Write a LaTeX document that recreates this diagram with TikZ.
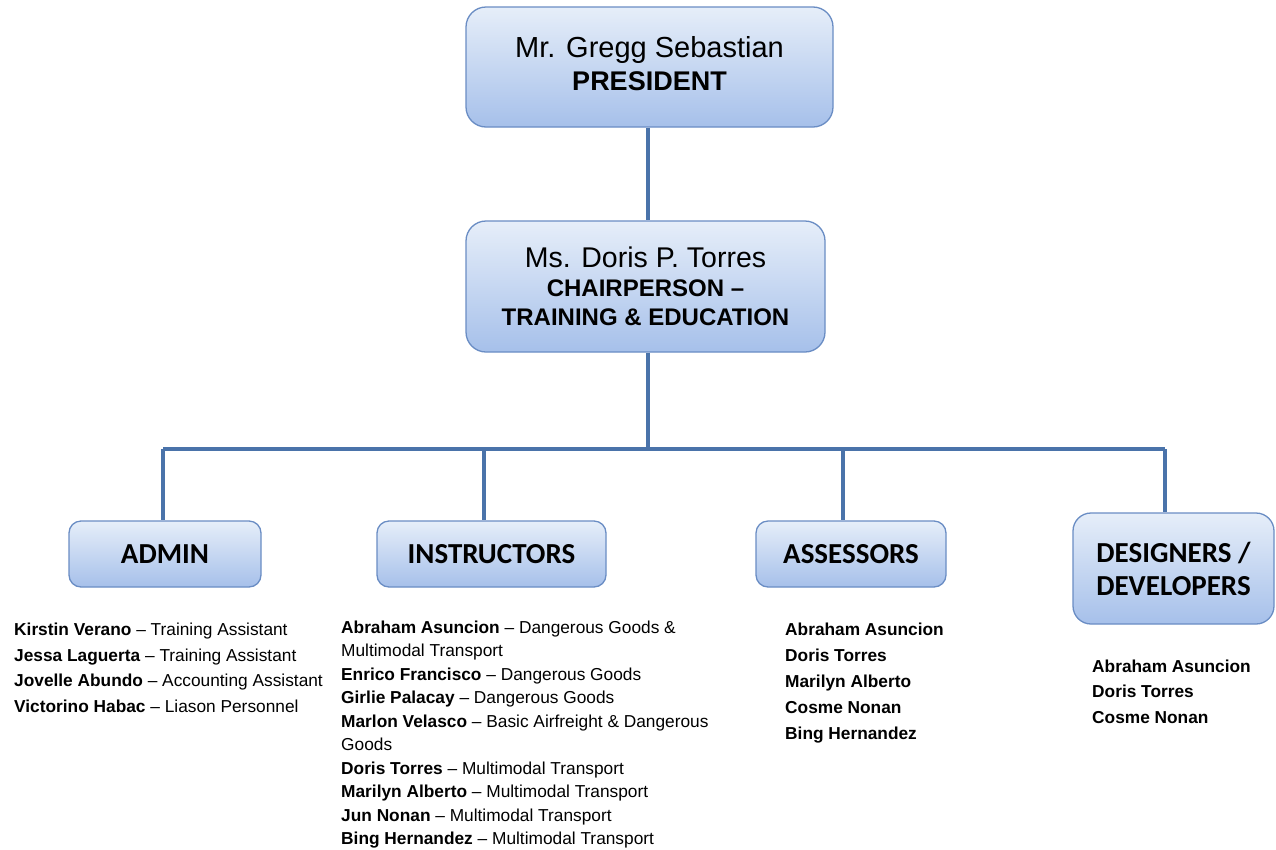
\documentclass[tikz,border=0pt]{standalone}
\usepackage{fontspec}
\setmainfont{Liberation Sans}
\newfontfamily\headfont{Carlito}
\definecolor{boxtop}{HTML}{E6EEF9}
\definecolor{boxbot}{HTML}{A6C0EA}
\definecolor{boxborder}{HTML}{6A8DC4}
\definecolor{linkcol}{HTML}{4A73AA}
\begin{document}
\begin{tikzpicture}[x=1pt,y=-1pt,
  box/.style={draw=boxborder, line width=1.3pt, rounded corners=#1, top color=boxtop, bottom color=boxbot, inner sep=0pt, align=center},
  head/.style={font=\headfont\bfseries\fontsize{29}{33}\selectfont},
  link/.style={draw=linkcol, line width=4pt},
  list/.style={inner sep=0pt, align=left, anchor=north west, font=\fontsize{17.3}{#1}\selectfont}]
\useasboundingbox (0,0) rectangle (1276,849);
\fill[white] (0,0) rectangle (1276,849);

\node[box=20pt, minimum width=367pt, minimum height=120pt, font=\fontsize{27}{33}\selectfont] (pres) at (649.5,67)
  {\fontsize{29}{33}\selectfont Mr. Gregg Sebastian\\ \bfseries PRESIDENT\rule[-8pt]{0pt}{8pt}};
\node[box=20pt, minimum width=359pt, minimum height=131pt, font=\fontsize{24}{29}\selectfont] (chair) at (645.5,286.5)
  {\fontsize{28.5}{29}\selectfont Ms. Doris P. Torres\\ \bfseries CHAIRPERSON –\\ \bfseries TRAINING \& EDUCATION};

\node[box=12pt, minimum width=192pt, minimum height=66pt, head] (admin) at (165,554) {ADMIN};
\node[box=12pt, minimum width=229pt, minimum height=66pt, head] (instr) at (491.5,554) {INSTRUCTORS};
\node[box=12pt, minimum width=190pt, minimum height=66pt, head] (assess) at (851,554) {ASSESSORS};
\node[box=18pt, minimum width=201pt, minimum height=111pt, head] (design) at (1173.5,568.5) {DESIGNERS /\\ DEVELOPERS};

\coordinate (b1) at (163,449);
\coordinate (b2) at (484,449);
\coordinate (b3) at (843,449);
\coordinate (b4) at (1165,449);
\coordinate (bc) at (648,449);

\draw[link] (pres.south -| bc) -- (chair.north -| bc);
\draw[link] (chair.south -| bc) -- (bc);
\draw[link] (b1) -- (b4);
\draw[link] (b1) -- (b1 |- admin.north);
\draw[link] (b2) -- (b2 |- instr.north);
\draw[link] (b3) -- (b3 |- assess.north);
\draw[link] (b4) -- (b4 |- design.north);

\node[list=25.7] (adminlist) at (14,622.6)
  {\textbf{Kirstin Verano} – Training Assistant\\
   \textbf{Jessa Laguerta} – Training Assistant\\
   \textbf{Jovelle Abundo} – Accounting Assistant\\
   \textbf{Victorino Habac} – Liason Personnel};
\node[list=23.5] (instrlist) at (341,620.6)
  {\textbf{Abraham Asuncion} – Dangerous Goods \&\\
   Multimodal Transport\\
   \textbf{Enrico Francisco} – Dangerous Goods\\
   \textbf{Girlie Palacay} – Dangerous Goods\\
   \textbf{Marlon Velasco} – Basic Airfreight \& Dangerous\\
   Goods\\
   \textbf{Doris Torres} – Multimodal Transport\\
   \textbf{Marilyn Alberto} – Multimodal Transport\\
   \textbf{Jun Nonan} – Multimodal Transport\\
   \textbf{Bing Hernandez} – Multimodal Transport};
\node[list=26] (assesslist) at (785,622.6)
  {\textbf{Abraham Asuncion}\\
   \textbf{Doris Torres}\\
   \textbf{Marilyn Alberto}\\
   \textbf{Cosme Nonan}\\
   \textbf{Bing Hernandez}};
\node[list=25.5] (designlist) at (1092,659.6)
  {\textbf{Abraham Asuncion}\\
   \textbf{Doris Torres}\\
   \textbf{Cosme Nonan}};
\end{tikzpicture}
\end{document}
